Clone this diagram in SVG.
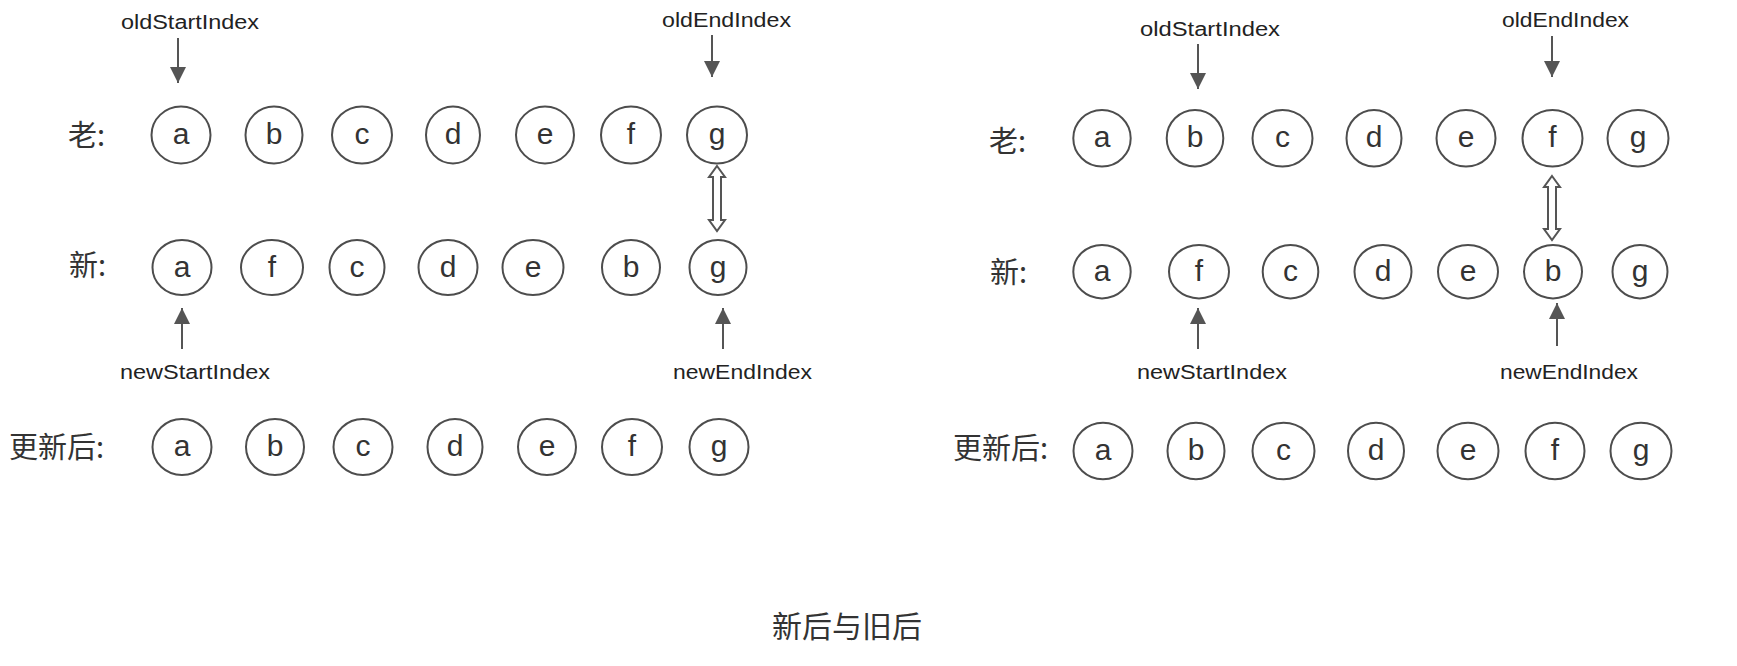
<svg xmlns="http://www.w3.org/2000/svg" width="1737" height="666" viewBox="0 0 1737 666">
<style>
.n ellipse{fill:#fff;stroke:#4d4d4d;stroke-width:2}
.n text{font-family:"Liberation Sans","Noto Sans",sans-serif;font-size:30px;fill:#333;text-anchor:middle}
.lbl{font-family:"Noto Sans CJK SC","Noto Sans",sans-serif;font-size:29px;fill:#333}
.idx{font-family:"Liberation Sans","Noto Sans",sans-serif;font-size:19.5px;fill:#222}
.ar{stroke:#555;stroke-width:2;fill:none}
.dbl{fill:#fff;stroke:#555;stroke-width:2}
.title{font-family:"Noto Sans CJK SC",sans-serif;font-size:30px;fill:#333}
</style>
<defs>
<marker id="ah" markerUnits="userSpaceOnUse" markerWidth="16" markerHeight="16" viewBox="0 0 16 16" refX="16" refY="8" orient="auto">
<path d="M0,0 L16,8 L0,16 Z" fill="#555"/>
</marker>
</defs>
<rect width="1737" height="666" fill="#fff"/>

<!-- Left panel labels -->
<g id="left-labels">
<text class="lbl" x="68" y="146">老:</text>
<text class="lbl" x="69" y="276">新:</text>
<text class="lbl" x="9" y="458">更新后:</text>
<text class="idx" x="121" y="29" textLength="138" lengthAdjust="spacingAndGlyphs">oldStartIndex</text>
<text class="idx" x="662" y="27" textLength="129" lengthAdjust="spacingAndGlyphs">oldEndIndex</text>
<text class="idx" x="120" y="379" textLength="150" lengthAdjust="spacingAndGlyphs">newStartIndex</text>
<text class="idx" x="673" y="379" textLength="139" lengthAdjust="spacingAndGlyphs">newEndIndex</text>
</g>

<!-- Left old row -->
<g id="L-old-a" class="n"><ellipse cx="181" cy="135" rx="29.5" ry="28.5"/><text x="181" y="144">a</text></g>
<g id="L-old-b" class="n"><ellipse cx="274" cy="135" rx="28.5" ry="28.5"/><text x="274" y="144">b</text></g>
<g id="L-old-c" class="n"><ellipse cx="362" cy="135" rx="30" ry="28.5"/><text x="362" y="144">c</text></g>
<g id="L-old-d" class="n"><ellipse cx="453" cy="135" rx="27" ry="28.5"/><text x="453" y="144">d</text></g>
<g id="L-old-e" class="n"><ellipse cx="545" cy="135" rx="29" ry="28.5"/><text x="545" y="144">e</text></g>
<g id="L-old-f" class="n"><ellipse cx="631" cy="135" rx="30" ry="28.5"/><text x="631" y="144">f</text></g>
<g id="L-old-g" class="n"><ellipse cx="717" cy="135" rx="30" ry="28.5"/><text x="717" y="144">g</text></g>

<!-- Left new row -->
<g id="L-new-a" class="n"><ellipse cx="182" cy="267.5" rx="29.5" ry="27.5"/><text x="182" y="276.5">a</text></g>
<g id="L-new-f" class="n"><ellipse cx="272" cy="267.5" rx="31" ry="27.5"/><text x="272" y="276.5">f</text></g>
<g id="L-new-c" class="n"><ellipse cx="357" cy="267.5" rx="27.5" ry="27.5"/><text x="357" y="276.5">c</text></g>
<g id="L-new-d" class="n"><ellipse cx="448" cy="267.5" rx="29.5" ry="27.5"/><text x="448" y="276.5">d</text></g>
<g id="L-new-e" class="n"><ellipse cx="533" cy="267.5" rx="30.5" ry="27.5"/><text x="533" y="276.5">e</text></g>
<g id="L-new-b" class="n"><ellipse cx="631" cy="267.5" rx="29" ry="27.5"/><text x="631" y="276.5">b</text></g>
<g id="L-new-g" class="n"><ellipse cx="718" cy="267.5" rx="28.5" ry="27.5"/><text x="718" y="276.5">g</text></g>

<!-- Left updated row -->
<g id="L-upd-a" class="n"><ellipse cx="182" cy="447" rx="29.5" ry="28"/><text x="182" y="456">a</text></g>
<g id="L-upd-b" class="n"><ellipse cx="275" cy="447" rx="29" ry="28"/><text x="275" y="456">b</text></g>
<g id="L-upd-c" class="n"><ellipse cx="363" cy="447" rx="29.5" ry="28"/><text x="363" y="456">c</text></g>
<g id="L-upd-d" class="n"><ellipse cx="455" cy="447" rx="27.5" ry="28"/><text x="455" y="456">d</text></g>
<g id="L-upd-e" class="n"><ellipse cx="547" cy="447" rx="29" ry="28"/><text x="547" y="456">e</text></g>
<g id="L-upd-f" class="n"><ellipse cx="632" cy="447" rx="30" ry="28"/><text x="632" y="456">f</text></g>
<g id="L-upd-g" class="n"><ellipse cx="719" cy="447" rx="29.5" ry="28"/><text x="719" y="456">g</text></g>

<!-- Right panel labels -->
<g id="right-labels">
<text class="lbl" x="989" y="152">老:</text>
<text class="lbl" x="990" y="283">新:</text>
<text class="lbl" x="953" y="459">更新后:</text>
<text class="idx" x="1140" y="35.5" textLength="140" lengthAdjust="spacingAndGlyphs">oldStartIndex</text>
<text class="idx" x="1502" y="27" textLength="127" lengthAdjust="spacingAndGlyphs">oldEndIndex</text>
<text class="idx" x="1137" y="379" textLength="150" lengthAdjust="spacingAndGlyphs">newStartIndex</text>
<text class="idx" x="1500" y="379" textLength="138" lengthAdjust="spacingAndGlyphs">newEndIndex</text>
</g>

<!-- Right old row -->
<g id="R-old-a" class="n"><ellipse cx="1102" cy="138.3" rx="28.7" ry="28.3"/><text x="1102" y="147.3">a</text></g>
<g id="R-old-b" class="n"><ellipse cx="1195" cy="138.3" rx="28.3" ry="28.3"/><text x="1195" y="147.3">b</text></g>
<g id="R-old-c" class="n"><ellipse cx="1282.5" cy="138.3" rx="30" ry="28.3"/><text x="1282.5" y="147.3">c</text></g>
<g id="R-old-d" class="n"><ellipse cx="1374" cy="138.3" rx="27.5" ry="28.3"/><text x="1374" y="147.3">d</text></g>
<g id="R-old-e" class="n"><ellipse cx="1466" cy="138.3" rx="29.5" ry="28.3"/><text x="1466" y="147.3">e</text></g>
<g id="R-old-f" class="n"><ellipse cx="1552.5" cy="138.3" rx="30" ry="28.3"/><text x="1552.5" y="147.3">f</text></g>
<g id="R-old-g" class="n"><ellipse cx="1638" cy="138.3" rx="30.5" ry="28.3"/><text x="1638" y="147.3">g</text></g>

<!-- Right new row -->
<g id="R-new-a" class="n"><ellipse cx="1102" cy="271.7" rx="28.7" ry="26.7"/><text x="1102" y="280.7">a</text></g>
<g id="R-new-f" class="n"><ellipse cx="1199" cy="271.7" rx="30" ry="26.7"/><text x="1199" y="280.7">f</text></g>
<g id="R-new-c" class="n"><ellipse cx="1290.5" cy="271.7" rx="27.8" ry="26.7"/><text x="1290.5" y="280.7">c</text></g>
<g id="R-new-d" class="n"><ellipse cx="1383" cy="271.7" rx="28.5" ry="26.7"/><text x="1383" y="280.7">d</text></g>
<g id="R-new-e" class="n"><ellipse cx="1468" cy="271.7" rx="30" ry="26.7"/><text x="1468" y="280.7">e</text></g>
<g id="R-new-b" class="n"><ellipse cx="1553" cy="271.7" rx="29" ry="26.7"/><text x="1553" y="280.7">b</text></g>
<g id="R-new-g" class="n"><ellipse cx="1640" cy="271.7" rx="27.5" ry="26.7"/><text x="1640" y="280.7">g</text></g>

<!-- Right updated row -->
<g id="R-upd-a" class="n"><ellipse cx="1103" cy="451" rx="29.5" ry="28.3"/><text x="1103" y="460">a</text></g>
<g id="R-upd-b" class="n"><ellipse cx="1196" cy="451" rx="28.5" ry="28.3"/><text x="1196" y="460">b</text></g>
<g id="R-upd-c" class="n"><ellipse cx="1283.5" cy="451" rx="31" ry="28.3"/><text x="1283.5" y="460">c</text></g>
<g id="R-upd-d" class="n"><ellipse cx="1376" cy="451" rx="28" ry="28.3"/><text x="1376" y="460">d</text></g>
<g id="R-upd-e" class="n"><ellipse cx="1468" cy="451" rx="30.5" ry="28.3"/><text x="1468" y="460">e</text></g>
<g id="R-upd-f" class="n"><ellipse cx="1555" cy="451" rx="29.5" ry="28.3"/><text x="1555" y="460">f</text></g>
<g id="R-upd-g" class="n"><ellipse cx="1641" cy="451" rx="30.5" ry="28.3"/><text x="1641" y="460">g</text></g>

<!-- Connectors -->
<g id="connectors">
<path class="ar" d="M178,38 V83" marker-end="url(#ah)"/>
<path class="ar" d="M712,35 V77" marker-end="url(#ah)"/>
<path class="ar" d="M182,349 V308" marker-end="url(#ah)"/>
<path class="ar" d="M723,349 V308" marker-end="url(#ah)"/>
<path class="ar" d="M1198,44 V89" marker-end="url(#ah)"/>
<path class="ar" d="M1552,36 V77" marker-end="url(#ah)"/>
<path class="ar" d="M1198,349 V308" marker-end="url(#ah)"/>
<path class="ar" d="M1557,346 V303" marker-end="url(#ah)"/>
<path class="dbl" d="M717,166 L725,177 L721,177 L721,220 L725,220 L717,231 L709,220 L713,220 L713,177 L709,177 Z"/>
<path class="dbl" d="M1552,176 L1560,187 L1556,187 L1556,229 L1560,229 L1552,240 L1544,229 L1548,229 L1548,187 L1544,187 Z"/>
</g>

<g id="title">
<text class="title" x="847" y="637" text-anchor="middle">新后与旧后</text>
</g>
</svg>
